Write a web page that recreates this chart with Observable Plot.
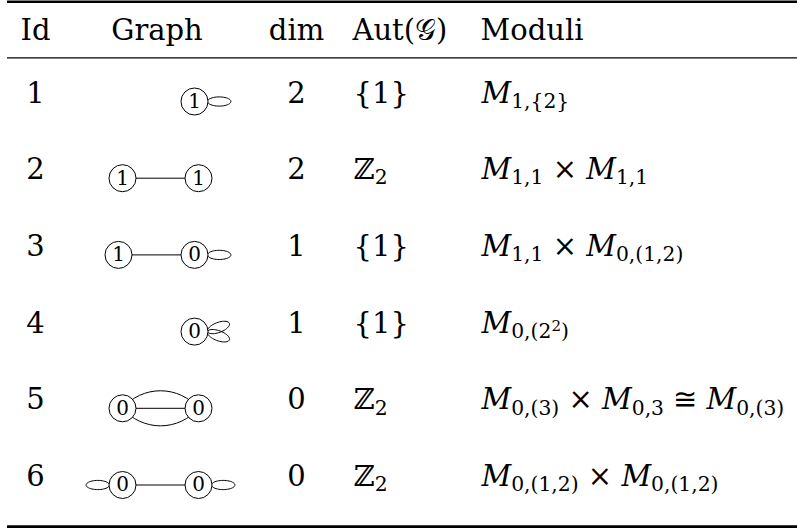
<!DOCTYPE html>
<html>
<head>
<meta charset="utf-8">
<script src="https://cdn.jsdelivr.net/npm/d3@7"></script>
<script src="https://cdn.jsdelivr.net/npm/@observablehq/plot@0.6"></script>
<style>
  html, body { margin: 0; padding: 0; background: #fff; }
</style>
</head>
<body>
<div id="chart"></div>
<script>
// ---------------- data ----------------
const headers = ["Id", "Graph", "dim", "Aut(𝒢)", "Moduli"];
const ids = ["1", "2", "3", "4", "5", "6"];
// genus label of each vertex of the stable graph
const vertexGenera = [[1], [1, 1], [1, 0], [0], [0, 0], [0, 0]];
// number of edges joining the two vertices
const edgeCounts = [0, 1, 1, 0, 3, 1];
// number of self-loops at each vertex
const loopCounts = [[1], [0, 0], [0, 1], [2], [0, 0], [1, 1]];
const dims = ["2", "2", "1", "1", "0", "0"];
// [..] = subscript, ^ = superscript inside a subscript
const auts = ["{1}", "ℤ[2]", "{1}", "{1}", "ℤ[2]", "ℤ[2]"];
const moduli = [
  "M[1,{2}]",
  "M[1,1] × M[1,1]",
  "M[1,1] × M[0,(1,2)]",
  "M[0,(2^2)]",
  "M[0,(3)] × M[0,3] ≅ M[0,(3)]",
  "M[0,(1,2)] × M[0,(1,2)]"
];

// ---------------- layout ----------------
const W = 797, H = 530;
const F = 29;                       // main font size
const FONT = "DejaVu Serif";
const R = 13.5;                     // vertex radius
const headerBaseline = 39;
const rowBaseline = i => 102 + 76.7 * i;
const yMid = b => b - 0.32 * F;     // y for lineAnchor "middle" so baseline lands on b
const col = { id: 35, graph: 156.5, dim: 296, aut: 353, moduli: 481 };

const headerRows = headers.map((h, i) => ({ h, i }));
const rows = ids.map((id, i) => ({
  id, dim: dims[i], aut: auts[i], moduli: moduli[i], y: yMid(rowBaseline(i))
}));

const vertices = [], edges = [], arcs = [], loops = [];
vertexGenera.forEach((gs, i) => {
  const cy = rowBaseline(i) - 1;
  const lc = loopCounts[i];
  const xs = gs.length === 1 ? [194]
    : (lc[0] === 0 && lc[1] > 0 ? [118, 194] : [122, 198]);
  gs.forEach((g, v) => vertices.push({ x: xs[v], y: cy, g: String(g) }));
  if (edgeCounts[i] >= 1) edges.push({ x1: xs[0], x2: xs[1], y: cy });
  if (edgeCounts[i] === 3) arcs.push({ x1: xs[0], x2: xs[1], y: cy });
  lc.forEach((n, v) => {
    const dir = (gs.length === 2 && v === 0) ? Math.PI : 0;
    const spreads = n === 1 ? [0] : n === 2 ? [-0.36, 0.36] : [];
    spreads.forEach((s, j) => {
      const a = dir + (dir === 0 ? s : -s);
      const px = xs[v] + (R - 0.5) * Math.cos(dir), py = cy;
      const rx = 11.7, ry = n === 2 ? 5 : 4.6;
      const key = `${i}-${v}-${j}`;
      for (let k = 0; k <= 48; k++) {
        const t = (k / 48) * 2 * Math.PI;
        const u = rx - rx * Math.cos(t), w = ry * Math.sin(t);
        loops.push({
          key,
          x: px + u * Math.cos(a) - w * Math.sin(a),
          y: py + u * Math.sin(a) + w * Math.cos(a)
        });
      }
    });
  });
});

const rules = [
  { y: 1.3, w: 2.6 },
  { y: 57.4, w: 1.4 },
  { y: 526.2, w: 2.8 }
];

const txt = { fontFamily: FONT, fontSize: F, fill: "black", lineAnchor: "middle" };

const svg = Plot.plot({
  width: W,
  height: H,
  margin: 0,
  x: { domain: [0, W], range: [0, W], axis: null },
  y: { domain: [0, H], range: [0, H], axis: null },
  style: { background: "white" },
  marks: [
    Plot.ruleY(rules, { y: "y", x1: 7, x2: W, stroke: "black", strokeWidth: "w" }),
    // headers
    Plot.text(headerRows.filter(d => d.i < 3), {
      ...txt, x: d => [col.id, col.graph, col.dim][d.i], y: yMid(headerBaseline),
      text: "h", textAnchor: "middle"
    }),
    Plot.text(headerRows.filter(d => d.i >= 3), {
      ...txt, x: d => (d.i === 3 ? col.aut - 1 : col.moduli - 1), y: yMid(headerBaseline),
      text: "h", textAnchor: "start"
    }),
    // graphs
    Plot.link(edges, { x1: "x1", x2: "x2", y1: "y", y2: "y", stroke: "black", strokeWidth: 1 }),
    Plot.arrow(arcs, { x1: "x1", x2: "x2", y1: "y", y2: "y", bend: 50, headLength: 0, stroke: "black", strokeWidth: 1 }),
    Plot.arrow(arcs, { x1: "x1", x2: "x2", y1: "y", y2: "y", bend: -50, headLength: 0, stroke: "black", strokeWidth: 1 }),
    Plot.line(loops, { x: "x", y: "y", z: "key", stroke: "black", strokeWidth: 1, curve: "linear" }),
    Plot.dot(vertices, { x: "x", y: "y", r: R, fill: "white", stroke: "black", strokeWidth: 1 }),
    Plot.text(vertices, { x: "x", y: "y", text: "g", fontFamily: FONT, fontSize: 20, lineAnchor: "middle", textAnchor: "middle", fill: "black" }),
    // columns
    Plot.text(rows, { ...txt, x: col.id, y: "y", text: "id", textAnchor: "middle" }),
    Plot.text(rows, { ...txt, x: col.dim, y: "y", text: "dim", textAnchor: "middle" }),
    Plot.text(rows, { ...txt, x: col.aut, y: "y", text: "aut", textAnchor: "start" }),
    Plot.text(rows, { ...txt, x: col.moduli, y: "y", text: "moduli", textAnchor: "start" })
  ]
});

// turn the [..] / ^ markup into real sub/superscript tspans
function richify(el) {
  const src = el.textContent;
  const segs = [];
  let inSub = false;
  for (let k = 0; k < src.length; k++) {
    let c = src[k], kind;
    if (c === "[") { inSub = true; continue; }
    if (c === "]") { inSub = false; continue; }
    if (inSub && c === "^") { c = src[++k]; kind = "sup"; }
    else if (inSub) kind = "sub";
    else kind = /[A-Za-z]/.test(c) ? "ital" : "main";
    const last = segs[segs.length - 1];
    if (last && last.kind === kind) last.text += c; else segs.push({ kind, text: c });
  }
  const spec = {
    main: { size: F, shift: 0 },
    ital: { size: F, shift: 0, italic: true },
    sub: { size: F * 0.7, shift: F * 0.18 },
    sup: { size: F * 0.52, shift: -F * 0.06 }
  };
  el.textContent = "";
  let cur = 0;
  for (const s of segs) {
    const p = spec[s.kind];
    const t = document.createElementNS("http://www.w3.org/2000/svg", "tspan");
    t.setAttribute("font-size", p.size);
    if (p.italic) t.setAttribute("font-style", "italic");
    if (p.shift !== cur) t.setAttribute("dy", p.shift - cur);
    cur = p.shift;
    t.textContent = s.text;
    el.appendChild(t);
  }
}
d3.select(svg).selectAll("text").each(function () {
  if (this.textContent.includes("[")) richify(this);
});

document.getElementById("chart").appendChild(svg);
</script>
</body>
</html>
